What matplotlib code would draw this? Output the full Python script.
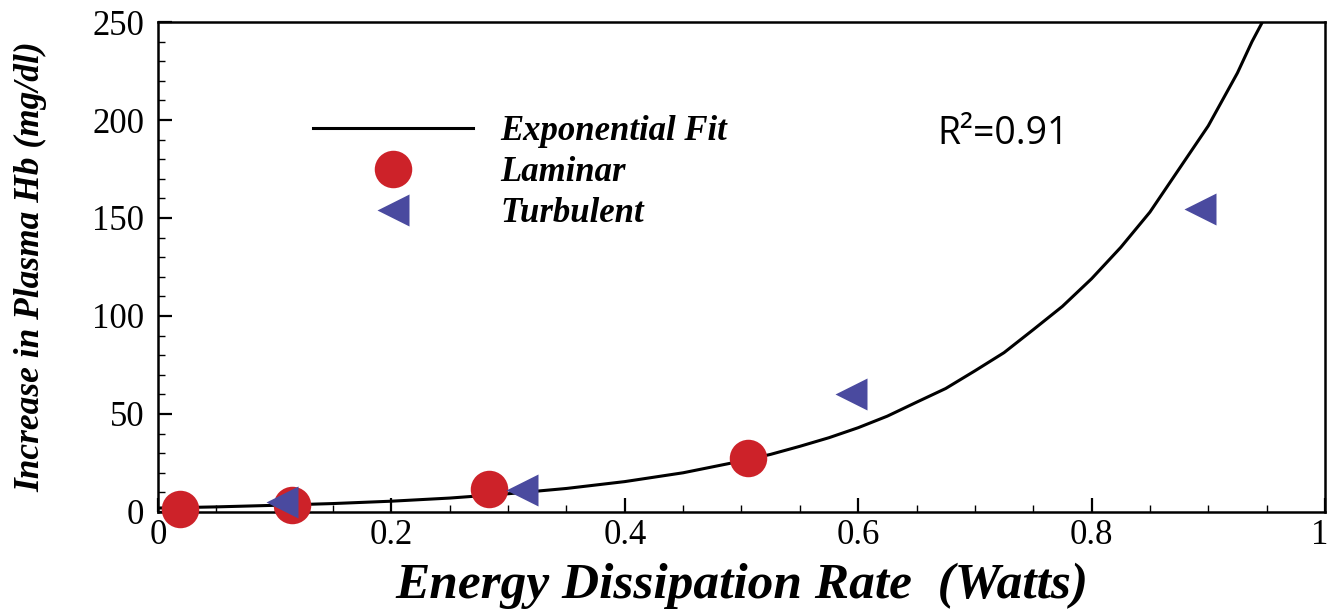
"""Plasma Hb vs energy dissipation rate, laminar and turbulent"""
import numpy as np
import matplotlib.pyplot as plt
import matplotlib.transforms as mtransforms
from matplotlib.ticker import MultipleLocator

# points
laminar_x = [0.019, 0.115, 0.284, 0.506]
laminar_y = [1.5, 3.8, 11.5, 27.5]

turbulent_x = [0.106, 0.312, 0.594, 0.893]
turbulent_y = [5.0, 11.0, 60.0, 154.5]

# exponential fit curve
fit_x = [0.0, 0.05, 0.1, 0.15, 0.2, 0.25, 0.3, 0.35, 0.4, 0.45, 0.5, 0.525,
         0.55, 0.575, 0.6, 0.625, 0.65, 0.675, 0.7, 0.725, 0.75, 0.775, 0.8,
         0.825, 0.85, 0.875, 0.9, 0.925, 0.9375, 0.95]
fit_y = [2.0, 2.6, 3.4, 4.3, 5.5, 7.1, 9.3, 12.0, 15.5, 20.0, 26.0, 29.4,
         33.5, 37.9, 43.0, 48.9, 56.0, 63.0, 72.0, 81.3, 93.0, 104.9, 119.0,
         135.0, 153.0, 175.0, 197.0, 224.0, 240.0, 254.0]

x_ticks = [0, 0.2, 0.4, 0.6, 0.8, 1]
x_tick_labels = ["0", "0.2", "0.4", "0.6", "0.8", "1"]
y_ticks = [0, 50, 100, 150, 200, 250]

red = "#cd2229"
blue = "#4a4a9f"
serif = ["Liberation Serif", "DejaVu Serif"]

fig = plt.figure(figsize=(13.3, 6.13), dpi=100)
ax = fig.add_axes([0.1188, 0.1648, 0.8774, 0.7993])

ax.plot(fit_x, fit_y, color="black", lw=2.2, label="Exponential Fit", zorder=2)
ax.plot(laminar_x, laminar_y, "o", ms=27, color=red, mec="none",
        label="Laminar", clip_on=False, zorder=3)
ax.plot(turbulent_x, turbulent_y, "<", ms=23, color=blue, mec="none",
        label="Turbulent", clip_on=False, zorder=4)

ax.set_xlim(0, 1)
ax.set_ylim(0, 250)
ax.set_xticks(x_ticks)
ax.set_xticklabels(x_tick_labels)
ax.set_yticks(y_ticks)
ax.xaxis.set_minor_locator(MultipleLocator(0.05))
ax.yaxis.set_minor_locator(MultipleLocator(10))
ax.tick_params(which="both", direction="in", top=False, right=False, width=1.6)
ax.tick_params(which="major", length=10)
ax.tick_params(which="minor", length=5, width=1.0)
ax.tick_params(axis="x", pad=5)
ax.tick_params(axis="y", pad=10)
for lab in ax.get_xticklabels() + ax.get_yticklabels():
    lab.set_family(serif)
    lab.set_fontsize(25)
# last x label sits right on the figure edge
last = ax.get_xticklabels()[-1]
last.set_transform(last.get_transform() +
                   mtransforms.ScaledTranslation(-4 / 72, 0, fig.dpi_scale_trans))
for sp in ax.spines.values():
    sp.set_linewidth(1.8)

ax.set_xlabel("Energy Dissipation Rate  (Watts)", family=serif, fontsize=37,
              fontweight="bold", style="italic", labelpad=8)
ax.set_ylabel("Increase in Plasma Hb (mg/dl)", family=serif, fontsize=25.5,
              fontweight="bold", style="italic", labelpad=32)

leg = ax.legend(loc="upper left", bbox_to_anchor=(0.106, 0.873), frameon=False,
                handlelength=4.6, handletextpad=0.8, labelspacing=0.22,
                prop={"family": serif, "size": 25, "weight": "bold", "style": "italic"})

ax.text(0.6675, 0.75, "R²=0.91", transform=ax.transAxes, family="Open Sans",
        fontsize=27, ha="left", va="baseline")

fig.savefig("out.png", dpi=100)
